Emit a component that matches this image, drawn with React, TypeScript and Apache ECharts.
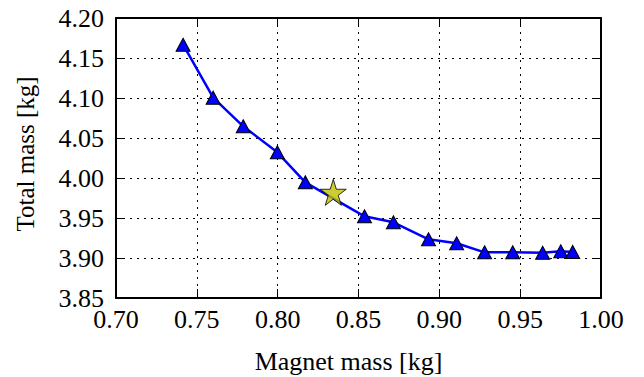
import React, { useEffect, useRef } from "react";
import * as echarts from "echarts";

const magnetMass = [0.7415, 0.7601, 0.7787, 0.7998, 0.8171, 0.8537, 0.8716, 0.8933, 0.9107, 0.928, 0.9454, 0.9639, 0.9751, 0.9825];
const totalMass = [4.1666, 4.1004, 4.0646, 4.0321, 3.9946, 3.9521, 3.9446, 3.9234, 3.9184, 3.9071, 3.9071, 3.9066, 3.9084, 3.9076];
const optimum = [0.8344, 3.9821];

const FONT = "'Liberation Serif', serif";

export default function App() {
  const ref = useRef<HTMLDivElement>(null);
  useEffect(() => {
    const chart = echarts.init(ref.current!, null, { renderer: "svg" });
    const gridLine = { show: true, lineStyle: { color: "#000", type: [2, 5], width: 1 } };
    const axisLine = { show: true, onZero: false, lineStyle: { color: "#000", width: 2 } };
    const axisTick = { show: true, inside: true, length: 9, lineStyle: { color: "#000", width: 1 } };
    chart.setOption({
      animation: false,
      textStyle: { fontFamily: FONT },
      grid: { left: 116, top: 18, right: 43, bottom: 79, containLabel: false, outerBoundsMode: "none" },
      xAxis: [
        {
          type: "value", min: 0.7, max: 1.0, interval: 0.05,
          name: "Magnet mass [kg]", nameLocation: "middle", nameGap: 50,
          nameTextStyle: { fontSize: 26, fontFamily: FONT, color: "#000", padding: [0, 20, 0, 0] },
          axisLine, axisTick, splitLine: gridLine,
          axisLabel: { fontSize: 26, fontFamily: FONT, color: "#000", margin: 8, formatter: (v: number) => v.toFixed(2) },
        },
        {
          type: "value", position: "top", min: 0.7, max: 1.0, interval: 0.05,
          axisLine, axisTick, splitLine: { show: false }, axisLabel: { show: false },
        },
      ],
      yAxis: [
        {
          type: "value", min: 3.85, max: 4.2, interval: 0.05,
          name: "Total mass [kg]", nameLocation: "middle", nameGap: 78,
          nameTextStyle: { fontSize: 25, fontFamily: FONT, color: "#000", padding: [0, 0, 0, 8] },
          axisLine, axisTick, splitLine: gridLine,
          axisLabel: { fontSize: 26, fontFamily: FONT, color: "#000", margin: 12, formatter: (v: number) => v.toFixed(2) },
        },
        {
          type: "value", position: "right", min: 3.85, max: 4.2, interval: 0.05,
          axisLine, axisTick, splitLine: { show: false }, axisLabel: { show: false },
        },
      ],
      series: [
        {
          type: "line",
          data: magnetMass.map((x, i) => [x, totalMass[i]]),
          lineStyle: { color: "#0000ff", width: 2.5 },
          symbol: "triangle", symbolSize: [14, 13],
          itemStyle: { color: "#0000ff", borderColor: "#000", borderWidth: 1 },
          z: 3,
        },
        {
          type: "scatter",
          data: [optimum],
          symbol: "path://M0,-10 L2.245,-3.09 L9.511,-3.09 L3.633,1.18 L5.878,8.09 L0,3.82 L-5.878,8.09 L-3.633,1.18 L-9.511,-3.09 L-2.245,-3.09 Z",
          symbolSize: 26,
          itemStyle: { color: "#bfbf00", borderColor: "#000", borderWidth: 1 },
          z: 4,
        },
      ],
    });
    return () => chart.dispose();
  }, []);
  return <div ref={ref} style={{ width: 644, height: 377, position: "absolute", left: 0, top: 0 }} />;
}
